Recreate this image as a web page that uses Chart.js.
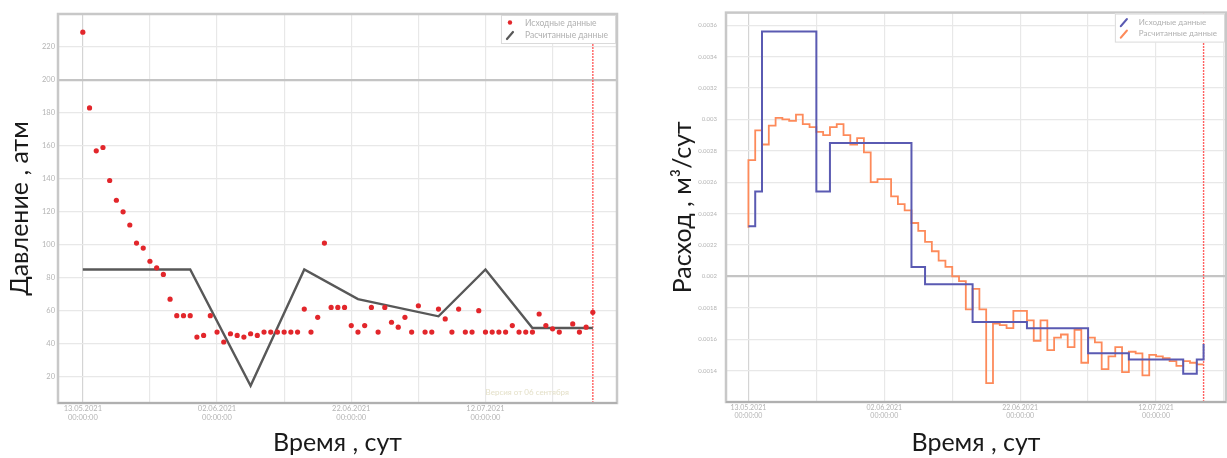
<!DOCTYPE html>
<html lang="ru">
<head>
<meta charset="utf-8">
<title>Давление и расход</title>
<script src="https://cdn.jsdelivr.net/npm/chart.js@4.4.1/dist/chart.umd.min.js"></script>
<style>
  html, body { margin: 0; padding: 0; background: #fff; }
  body { width: 1227px; height: 458px; position: relative; overflow: hidden; }
  .box { position: absolute; top: 0; height: 458px; }
  #leftBox { left: 0; width: 630px; }
  #rightBox { left: 630px; width: 597px; }
</style>
</head>
<body>
<div class="box" id="leftBox"><canvas id="pressureChart"></canvas></div>
<div class="box" id="rightBox"><canvas id="flowChart"></canvas></div>
<script>
// ось времени: сутки от 13.05.2021
const dateTicks = [0, 10, 20, 30, 40, 50, 60, 70];
const labeledDays = [0, 20, 40, 60];
const dateLabels = ['13.05.2021', '02.06.2021', '22.06.2021', '12.07.2021'];

// давление
const pressureTicks = [20, 40, 60, 80, 100, 120, 140, 160, 180, 200, 220];
const pressureDays = [0, 1, 2, 3, 4, 5, 6, 7, 8, 9, 10, 11, 12, 13, 14, 15, 16, 17, 18, 19,
  20, 21, 22, 23, 24, 25, 26, 27, 28, 29, 30, 31, 32, 33, 34, 35, 36, 37, 38, 39,
  40, 41, 42, 43, 44, 45, 46, 47, 48, 49, 50, 51, 52, 53, 54, 55, 56, 57, 58, 59,
  60, 61, 62, 63, 64, 65, 66, 67, 68, 69, 70, 71, 73, 74, 75, 76];
const pressureValues = [229, 183, 157, 159, 139, 127, 120, 112, 101, 98, 90, 86, 82, 67, 57, 57, 57, 44, 45, 57,
  47, 41, 46, 45, 44, 46, 45, 47, 47, 47, 47, 47, 47, 61, 47, 56, 101, 62, 62, 62,
  51, 47, 51, 62, 47, 62, 53, 50, 56, 47, 63, 47, 47, 61, 55, 47, 61, 47, 47, 60,
  47, 47, 47, 47, 51, 47, 47, 47, 58, 51, 49, 47, 52, 47, 50, 59];
const calcPressureDays = [0, 16, 25, 33, 41, 53, 60, 67, 76];
const calcPressureValues = [85, 85, 14.5, 85, 67, 56.6, 85, 49.5, 49.5];
const pressureMarkerDay = 76;

// расход
const flowTicks = [0.0014, 0.0016, 0.0018, 0.002, 0.0022, 0.0024, 0.0026, 0.0028, 0.003, 0.0032, 0.0034, 0.0036];
const sourceFlowDays = [0, 1, 2, 10, 12, 24, 26, 33, 41, 50, 56, 64, 66, 67];
const sourceFlowValues = [0.00232, 0.00254, 0.00356, 0.00254, 0.00285, 0.00206, 0.00195, 0.00171,
  0.00167, 0.00151, 0.00147, 0.00138, 0.00147, 0.00157];
const calcFlowDays = [0, 0, 1, 2, 3, 4, 5, 6, 7, 8, 9, 10, 11, 12, 13, 14, 15, 16, 17, 18, 19,
  20, 21, 22, 23, 24, 25, 26, 27, 28, 29, 30, 31, 32, 33, 34, 35, 36, 37, 38, 39,
  40, 41, 42, 43, 44, 45, 46, 47, 48, 49, 50, 51, 52, 53, 54, 55, 56, 57, 58, 59,
  60, 61, 62, 63, 64, 65, 66, 67];
const calcFlowValues = [0.00231, 0.00274, 0.00293, 0.00284, 0.00296, 0.00301, 0.00300, 0.00299, 0.00303, 0.00297, 0.00295,
  0.00292, 0.00290, 0.00295, 0.00297, 0.00290, 0.00284, 0.00288, 0.00279, 0.00260, 0.00262,
  0.00262, 0.00251, 0.00246, 0.00242, 0.00234, 0.00229, 0.00222, 0.00216, 0.00210, 0.00206,
  0.00200, 0.00197, 0.00179, 0.00192, 0.00179, 0.00132, 0.00170, 0.00169, 0.00167, 0.00178,
  0.00178, 0.00172, 0.00159, 0.00172, 0.00153, 0.00161, 0.00163, 0.00155, 0.00166, 0.00145,
  0.00161, 0.00158, 0.00141, 0.00149, 0.00155, 0.00139, 0.00152, 0.00151, 0.00137, 0.00150,
  0.00149, 0.00148, 0.00146, 0.00143, 0.00146, 0.00145, 0.00144, 0.00144];
const flowMarkerDay = 67;

const toPoints = (xs, ys) => xs.map((x, i) => ({ x: x, y: ys[i] }));
const tickColor = '#b4b4b4';
const titleFont = { family: 'Lato', size: 25 };

// рамка, легенда и подпись версии поверх графика
const decor = {
  id: 'decor',
  afterDatasetsDraw(chart, args, opts) {
    const ctx = chart.ctx;
    const a = chart.chartArea;
    ctx.save();
    if (opts.watermark) {
      ctx.font = '8px Lato';
      ctx.fillStyle = '#e4e0c8';
      ctx.textAlign = 'right';
      ctx.textBaseline = 'middle';
      ctx.fillText(opts.watermark, a.right - 48, a.bottom - 11);
    }
    ctx.strokeStyle = '#c8c8c8';
    ctx.lineWidth = 2.5;
    ctx.strokeRect(a.left, a.top, a.right - a.left, a.bottom - a.top);
    ctx.strokeStyle = '#b0b0b0';
    ctx.lineWidth = 2;
    ctx.beginPath();
    ctx.moveTo(a.left, a.bottom);
    ctx.lineTo(a.right, a.bottom);
    ctx.stroke();

    // легенда
    ctx.font = opts.fontSize + 'px Lato';
    const textW = Math.max(...opts.items.map(it => ctx.measureText(it.text).width));
    const w = textW + 32, h = 29;
    const x = a.right - w - 1, y = a.top + 1;
    ctx.fillStyle = '#fff';
    ctx.fillRect(x, y, w, h);
    ctx.strokeStyle = '#dadada';
    ctx.lineWidth = 1;
    ctx.strokeRect(x + 0.5, y + 0.5, w - 1, h - 1);
    opts.items.forEach((it, i) => {
      const cy = y + 8.5 + i * 11.5;
      const cx = x + 9;
      if (it.kind === 'dot') {
        ctx.fillStyle = it.color;
        ctx.beginPath();
        ctx.arc(cx, cy - 1, 2.2, 0, Math.PI * 2);
        ctx.fill();
      } else {
        ctx.strokeStyle = it.color;
        ctx.lineWidth = 2.2;
        ctx.lineCap = 'round';
        ctx.beginPath();
        ctx.moveTo(cx - 3, cy + 4);
        ctx.lineTo(cx + 3, cy - 3);
        ctx.stroke();
      }
      ctx.fillStyle = '#b0b0b0';
      ctx.textAlign = 'left';
      ctx.textBaseline = 'middle';
      ctx.fillText(it.text, x + 24, cy);
    });
    ctx.restore();
  }
};

function timeAxis(min, max, height, tickSize) {
  return {
    type: 'linear',
    min: min,
    max: max,
    afterBuildTicks: (scale) => { scale.ticks = dateTicks.map(v => ({ value: v })); },
    afterFit: (scale) => { scale.height = height; },
    grid: {
      drawTicks: false,
      color: (c) => c.tick && c.tick.value === 0 ? '#d4d4d4' : '#e8e8e8',
      lineWidth: 1.2
    },
    border: { display: false },
    ticks: {
      autoSkip: false,
      maxRotation: 0,
      padding: 1,
      color: tickColor,
      font: { family: 'Lato', size: tickSize, lineHeight: 1.25 },
      callback: (v) => {
        const i = labeledDays.indexOf(v);
        return i >= 0 ? [dateLabels[i], '00:00:00'] : '';
      }
    },
    title: {
      display: true,
      text: 'Время , сут',
      color: '#1a1a1a',
      font: titleFont,
      padding: { top: 0, bottom: 0 }
    }
  };
}

function valueAxis(min, max, ticks, width, mainLine, tickSize, tickPad, title, titlePad, fmt) {
  return {
    min: min,
    max: max,
    afterBuildTicks: (scale) => { scale.ticks = ticks.map(v => ({ value: v })); },
    afterFit: (scale) => { scale.width = width; },
    grid: {
      drawTicks: false,
      color: (c) => c.tick && c.tick.value === mainLine ? '#c4c4c4' : '#e8e8e8',
      lineWidth: (c) => c.tick && c.tick.value === mainLine ? 2.2 : 1.2
    },
    border: { display: false },
    ticks: {
      padding: tickPad,
      color: tickColor,
      font: { family: 'Lato', size: tickSize },
      callback: fmt
    },
    title: {
      display: true,
      text: title,
      color: '#1a1a1a',
      font: titleFont,
      padding: { top: titlePad, bottom: 0 }
    }
  };
}

new Chart(document.getElementById('pressureChart').getContext('2d'), {
  type: 'line',
  data: {
    datasets: [{
      label: 'Исходные данные',
      data: toPoints(pressureDays, pressureValues),
      showLine: false,
      pointRadius: 2.6,
      pointBorderWidth: 0,
      pointBackgroundColor: '#e2262b'
    }, {
      label: 'Расчитанные данные',
      data: toPoints(calcPressureDays, calcPressureValues),
      borderColor: '#585858',
      borderWidth: 2.4,
      pointRadius: 0,
      tension: 0
    }, {
      label: 'marker',
      data: [{ x: pressureMarkerDay, y: 4 }, { x: pressureMarkerDay, y: 240 }],
      borderColor: '#ff6161',
      borderWidth: 1.4,
      borderDash: [2, 1],
      pointRadius: 0
    }]
  },
  options: {
    responsive: true,
    maintainAspectRatio: false,
    animation: false,
    layout: { padding: { top: 14, right: 13, left: 0, bottom: 0 } },
    scales: {
      x: timeAxis(-3.7, 79.6, 55, 7.5),
      y: valueAxis(4, 240, pressureTicks, 58, 200, 7.5, 3, 'Давление , атм', 5, (v) => v)
    },
    plugins: {
      legend: { display: false },
      tooltip: { enabled: false },
      decor: {
        fontSize: 8.5,
        watermark: 'Версия от 06 сентября',
        items: [
          { kind: 'dot', color: '#e2262b', text: 'Исходные данные' },
          { kind: 'pen', color: '#585858', text: 'Расчитанные данные' }
        ]
      }
    }
  },
  plugins: [decor]
});

new Chart(document.getElementById('flowChart').getContext('2d'), {
  type: 'line',
  data: {
    datasets: [{
      label: 'Исходные данные',
      data: toPoints(sourceFlowDays, sourceFlowValues),
      stepped: true,
      borderColor: '#5a5ab2',
      borderWidth: 2,
      pointRadius: 0
    }, {
      label: 'Расчитанные данные',
      data: toPoints(calcFlowDays, calcFlowValues),
      stepped: true,
      borderColor: '#fd8a5a',
      borderWidth: 1.8,
      pointRadius: 0
    }, {
      label: 'marker',
      data: [{ x: flowMarkerDay, y: 0.0012 }, { x: flowMarkerDay, y: 0.00368 }],
      borderColor: '#ff6161',
      borderWidth: 1.4,
      borderDash: [2, 1],
      pointRadius: 0
    }]
  },
  options: {
    responsive: true,
    maintainAspectRatio: false,
    animation: false,
    layout: { padding: { top: 12, right: 1, left: 0, bottom: 0 } },
    scales: {
      x: timeAxis(-3.3, 70.3, 56, 7),
      y: valueAxis(0.0012, 0.00368, flowTicks, 96, 0.002, 6, 9, 'Расход , м³/сут', 38,
        (v) => String(+v.toFixed(4)))
    },
    plugins: {
      legend: { display: false },
      tooltip: { enabled: false },
      decor: {
        fontSize: 8,
        items: [
          { kind: 'pen', color: '#5a5ab2', text: 'Исходные данные' },
          { kind: 'pen', color: '#fd8a5a', text: 'Расчитанные данные' }
        ]
      }
    }
  },
  plugins: [decor]
});
</script>
</body>
</html>
